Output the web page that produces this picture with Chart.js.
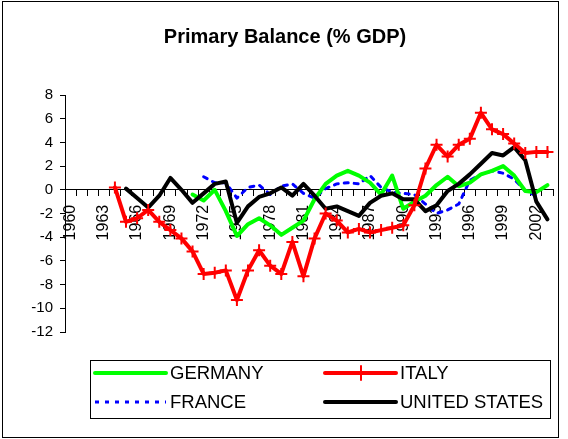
<!DOCTYPE html>
<html>
<head>
<meta charset="utf-8">
<title>Primary Balance (% GDP)</title>
<script src="https://cdn.jsdelivr.net/npm/chart.js@4.4.0/dist/chart.umd.min.js"></script>
<style>
    html, body { margin: 0; padding: 0; background: #fff; }
    canvas { display: block; }
</style>
</head>
<body>
<canvas id="balanceChart" width="568" height="439"></canvas>
<script>
// Years on the category axis
const years = [
    '1960', '1961', '1962', '1963', '1964', '1965', '1966', '1967', '1968', '1969',
    '1970', '1971', '1972', '1973', '1974', '1975', '1976', '1977', '1978', '1979',
    '1980', '1981', '1982', '1983', '1984', '1985', '1986', '1987', '1988', '1989',
    '1990', '1991', '1992', '1993', '1994', '1995', '1996', '1997', '1998', '1999',
    '2000', '2001', '2002', '2003'
];

// Only every third year gets a label
const tickLabels = ['1960', '1963', '1966', '1969', '1972', '1975', '1978', '1981',
    '1984', '1987', '1990', '1993', '1996', '1999', '2002'];

// Primary balance, % of GDP (null = no data)
const germany = [
    null, null, null, null, null, null, null, null, null, null,
    null, -0.4, -0.9, 0.0, -1.8, -3.9, -2.9, -2.4, -3.0, -3.8,
    -3.2, -2.6, -0.8, 0.5, 1.2, 1.6, 1.2, 0.6, -0.4, 1.2,
    -1.6, -1.0, -0.5, 0.4, 1.1, 0.3, 0.6, 1.3, 1.6, 2.0,
    1.2, -0.1, -0.2, 0.4
];

const italy = [
    null, null, null, null, 0.2, -2.7, -2.4, -1.7, -2.7, -3.4,
    -4.1, -5.2, -7.1, -7.0, -6.8, -9.3, -6.8, -5.1, -6.4, -7.1,
    -4.4, -7.3, -4.1, -2.0, -2.6, -3.6, -3.3, -3.6, -3.4, -3.2,
    -3.0, -1.3, 1.8, 3.8, 2.8, 3.8, 4.3, 6.5, 5.1, 4.7,
    3.9, 3.1, 3.2, 3.2
];

const france = [
    null, null, null, null, null, null, null, null, null, null,
    null, null, 1.1, 0.6, 0.6, -0.7, 0.2, 0.4, -0.4, 0.3,
    0.5, -0.3, -0.7, 0.1, 0.5, 0.6, 0.5, 1.2, 0.2, -0.2,
    -0.3, -0.4, -1.2, -2.0, -1.7, -1.2, 0.8, 1.3, 1.6, 1.4,
    0.9, -0.1, -0.5, null
];

const unitedStates = [
    null, null, null, null, null, 0.1, -0.7, -1.5, -0.5, 1.0,
    0.0, -1.1, -0.3, 0.5, 0.7, -2.8, -1.4, -0.6, -0.3, 0.2,
    -0.5, 0.5, -0.5, -1.6, -1.4, -1.8, -2.2, -1.1, -0.5, -0.3,
    -0.8, -0.8, -1.8, -1.3, -0.1, 0.5, 1.3, 2.2, 3.1, 2.9,
    3.6, 2.5, -1.0, -2.5
];

const FONT = '"Liberation Sans", Arial, sans-serif';
Chart.defaults.font.family = FONT;
Chart.defaults.color = '#000';

// Centre the title on the framed area rather than the padded box
const titleShift = {
    id: 'titleShift',
    afterLayout(chart) {
        if (chart.titleBlock) {
            chart.titleBlock.left += 17;
        }
    }
};

// Outer frame and the boxed two-column legend
const frameAndLegend = {
    id: 'frameAndLegend',
    afterDraw(chart) {
        const ctx = chart.ctx;
        ctx.save();
        ctx.strokeStyle = '#000';
        ctx.lineWidth = 1;
        ctx.strokeRect(2.5, 1.5, 556, 436);
        ctx.strokeRect(90.5, 360.5, 460, 58);

        const slots = [[95, 373], [325, 373], [95, 402], [325, 402]];
        chart.data.datasets.forEach((ds, i) => {
            const [x, y] = slots[i];
            ctx.strokeStyle = ds.borderColor;
            ctx.lineWidth = ds.borderWidth;
            ctx.lineCap = ds.borderDash ? 'butt' : 'round';
            ctx.setLineDash(ds.borderDash || []);
            ctx.beginPath();
            ctx.moveTo(x, y);
            ctx.lineTo(x + 71, y);
            ctx.stroke();
            ctx.setLineDash([]);
            if (ds.pointStyle === 'cross') {
                ctx.lineWidth = 2;
                ctx.beginPath();
                ctx.moveTo(x + 36, y - 7);
                ctx.lineTo(x + 36, y + 7);
                ctx.stroke();
            }
            ctx.fillStyle = '#000';
            ctx.font = '18.5px ' + FONT;
            ctx.textBaseline = 'middle';
            ctx.fillText(ds.label, x + 75, y + 1);
        });
        ctx.restore();
    }
};

const ctx = document.getElementById('balanceChart').getContext('2d');
const balanceChart = new Chart(ctx, {
    type: 'line',
    data: {
        labels: years,
        datasets: [
            {
                label: 'GERMANY',
                data: germany,
                borderColor: '#00FF00',
                borderWidth: 4,
                pointRadius: 0,
                order: 2
            },
            {
                label: 'ITALY',
                data: italy,
                borderColor: '#FF0000',
                borderWidth: 4,
                pointStyle: 'cross',
                pointRadius: 6,
                pointBorderWidth: 2,
                pointBorderColor: '#FF0000',
                order: 0
            },
            {
                label: 'FRANCE',
                data: france,
                borderColor: '#0000FF',
                borderWidth: 3,
                borderDash: [4, 6],
                pointRadius: 0,
                order: 3
            },
            {
                label: 'UNITED STATES',
                data: unitedStates,
                borderColor: '#000000',
                borderWidth: 4,
                pointRadius: 0,
                order: 1
            }
        ]
    },
    options: {
        responsive: false,
        animation: false,
        events: [],
        elements: {
            line: { tension: 0, borderJoinStyle: 'round', borderCapStyle: 'round' }
        },
        layout: {
            padding: { left: 0, right: 15, top: 0, bottom: 107 }
        },
        scales: {
            x: {
                type: 'category',
                position: { y: 0 },
                offset: true,
                grid: {
                    offset: true,
                    drawOnChartArea: false,
                    drawTicks: true,
                    tickLength: 6,
                    color: '#000',
                    tickColor: '#000'
                },
                border: { color: '#000', width: 1 },
                ticks: {
                    autoSkip: false,
                    minRotation: 90,
                    maxRotation: 90,
                    padding: 9,
                    font: { size: 16 },
                    color: '#000',
                    callback: function(value) {
                        const label = this.getLabelForValue(value);
                        return tickLabels.includes(label) ? label : '';
                    }
                },
                afterFit: (scale) => {
                    scale.paddingLeft = 0;
                    scale.paddingRight = 0;
                }
            },
            y: {
                min: -12,
                max: 8,
                grid: {
                    drawOnChartArea: false,
                    drawTicks: true,
                    tickLength: 5,
                    color: '#000',
                    tickColor: '#000'
                },
                border: { color: '#000', width: 1 },
                ticks: {
                    stepSize: 2,
                    padding: 7,
                    font: { size: 15 },
                    color: '#000'
                },
                afterFit: (scale) => {
                    scale.width = 65;
                }
            }
        },
        plugins: {
            legend: { display: false },
            tooltip: { enabled: false },
            title: {
                display: true,
                text: 'Primary Balance (% GDP)',
                color: '#000',
                font: { size: 20, weight: 'bold' },
                padding: { top: 25, bottom: 46 }
            }
        }
    },
    plugins: [titleShift, frameAndLegend]
});
</script>
</body>
</html>
